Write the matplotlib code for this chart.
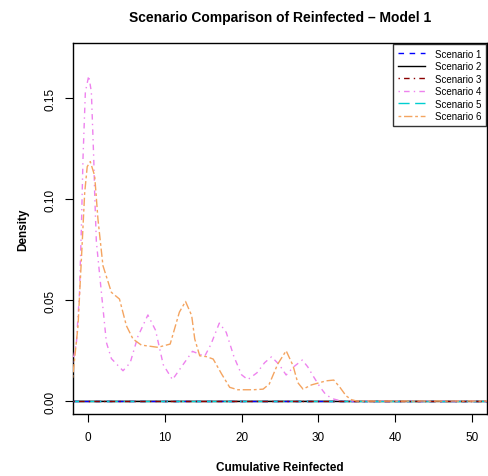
import matplotlib.pyplot as plt
import numpy as np

plt.rcParams['font.family'] = ['Liberation Sans', 'DejaVu Sans']

# Scenario 4 density
x4 = [-2.0, -1.5, -1.1, -0.85, -0.65, -0.34, 0.1, 0.44, 0.75, 0.87, 1.09, 1.74, 2.4, 3.05,
      4.56, 5.5, 6.5, 7.8, 8.8, 9.8, 11.0, 12.0, 13.6, 15.2, 16.0, 17.1, 18.0, 19.0, 20.0,
      20.8, 22.0, 23.0, 23.9, 24.9, 25.8, 26.8, 27.9, 28.6, 29.3, 30.2, 31.0, 32.0, 33.0, 52.0]
y4 = [0.019, 0.029, 0.054, 0.087, 0.12, 0.153, 0.161, 0.153, 0.12, 0.103, 0.079, 0.054, 0.029, 0.021,
      0.015, 0.019, 0.032, 0.0426, 0.035, 0.018, 0.0106, 0.016, 0.0246, 0.0222, 0.028, 0.0386, 0.034, 0.022, 0.013,
      0.0106, 0.014, 0.019, 0.0219, 0.018, 0.0129, 0.017, 0.0203, 0.017, 0.0125, 0.007, 0.003, 0.001, 0.0, 0.0]

# Scenario 6 density
x6 = [-2.0, -1.3, -0.86, -0.43, -0.1, 0.3, 0.87, 1.3, 1.95, 3.05, 4.1, 5.0, 5.86, 6.95, 9.1,
      10.7, 11.9, 12.7, 13.5, 13.9, 14.55, 15.4, 16.3, 17.4, 18.45, 19.5, 21.5, 22.8, 23.6,
      24.7, 25.8, 26.7, 27.3, 28.0, 29.1, 31.0, 32.0, 32.8, 33.6, 34.3, 35.0, 52.0]
y6 = [0.0115, 0.037, 0.070, 0.103, 0.116, 0.1185, 0.1115, 0.090, 0.067, 0.0538, 0.0505, 0.0373, 0.0307, 0.0277, 0.0266,
      0.0282, 0.044, 0.0493, 0.0423, 0.0307, 0.0224, 0.022, 0.0208, 0.0134, 0.0068, 0.0056, 0.0056, 0.0059, 0.0084,
      0.0183, 0.0249, 0.0175, 0.0092, 0.0059, 0.008, 0.010, 0.0104, 0.0068, 0.0026, 0.0007, 0.0, 0.0]

# Scenarios 1, 2, 3, 5 are flat at zero
x_flat = [-2.0, 52.0]
y_flat = [0.0, 0.0]

labels = ['Scenario 1', 'Scenario 2', 'Scenario 3', 'Scenario 4', 'Scenario 5', 'Scenario 6']
colors = ['blue', 'black', 'darkred', 'violet', 'darkturquoise', 'sandybrown']
styles = [(0, (4, 4)), '-', (0, (1, 3, 4, 3)), (0, (1, 3, 4, 3)), (0, (8, 4)), (0, (2, 2, 6, 2))]

fig = plt.figure(figsize=(4.88, 4.77), dpi=100)
ax = fig.add_axes([73/488, 62/477, 414/488, 371/477])

ax.axhline(0, color='#bebebe', lw=1.2, zorder=1)
xs = [x_flat, x_flat, x_flat, x4, x_flat, x6]
ys = [y_flat, y_flat, y_flat, y4, y_flat, y6]
order = [1, 0, 4, 2, 3, 5]
for i in range(6):
    ax.plot(xs[i], ys[i], color=colors[i], ls=styles[i], lw=1.0, label=labels[i], zorder=2 + order[i])

ax.set_xlim(-1.95, 51.95)
ax.set_ylim(-0.0064, 0.1772)
ax.set_xticks([0, 10, 20, 30, 40, 50])
ax.set_yticks([0.00, 0.05, 0.10, 0.15])
ax.set_yticklabels(['0.00', '0.05', '0.10', '0.15'], rotation=90, va='center')
ax.tick_params(direction='out', length=6, labelsize=8.5, pad=6)
for s in ax.spines.values():
    s.set_linewidth(1.0)

ax.set_title('Scenario Comparison of Reinfected \u2013 Model 1', fontsize=10, fontweight='bold', pad=16)
ax.set_xlabel('Cumulative Reinfected', fontsize=8.5, fontweight='bold', labelpad=13)
ax.set_ylabel('Density', fontsize=8.5, fontweight='bold', labelpad=11)

handles, labs = ax.get_legend_handles_labels()
leg = ax.legend(handles, labels, loc='upper right', fontsize=7, frameon=True, fancybox=False,
                edgecolor='black', borderaxespad=0.1, handlelength=2.8, labelspacing=0.25,
                borderpad=0.5, handletextpad=1.0)
leg.get_frame().set_linewidth(1.0)

fig.savefig('out.png', dpi=100)
